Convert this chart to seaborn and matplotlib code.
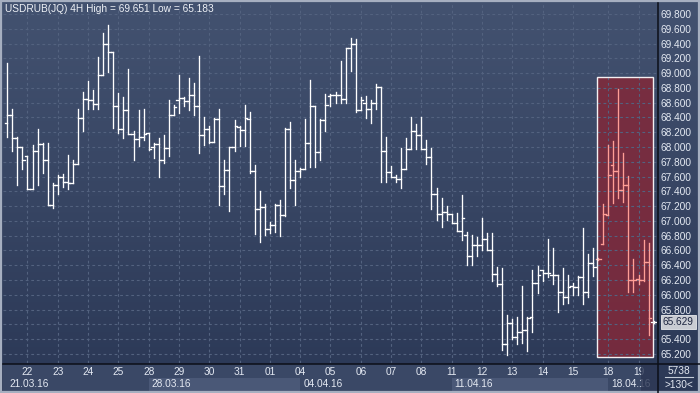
import numpy as np
import pandas as pd
import matplotlib
matplotlib.use("Agg")
import matplotlib.pyplot as plt
from matplotlib.patches import Rectangle
from matplotlib.lines import Line2D
import seaborn as sns

# ---------------- data (USDRUB 4H bars) ----------------
opens = [68.32, 68.43, 68.12, 68.00, 67.88, 67.43, 67.95, 68.04, 67.82, 67.22,
         67.48, 67.60, 67.53, 67.51, 67.77, 68.39, 68.65, 68.64, 68.58, 68.97,
         69.40, 69.28, 68.55, 68.25, 68.50, 68.17, 68.11, 68.14, 68.19, 68.00,
         68.04, 67.82, 67.98, 68.44, 68.63, 68.66, 68.62, 68.71, 68.55, 68.16,
         68.24, 68.07, 68.38, 67.47, 67.69, 68.00, 68.27, 68.23, 68.38, 67.67,
         67.16, 67.19, 66.89, 66.95, 67.22, 67.08, 68.25, 67.55, 67.68, 67.70,
         68.06, 68.56, 67.93, 68.37, 68.69, 68.70, 68.70, 68.65, 69.34, 69.40,
         68.50, 68.59, 68.51, 68.59, 68.81, 67.95, 67.66, 67.60, 67.57, 67.70,
         67.97, 68.22, 68.16, 67.97, 67.87, 67.36, 67.10, 67.12, 67.09, 66.97,
         66.86, 66.81, 66.53, 66.67, 66.67, 66.75, 66.61, 66.28, 66.15, 65.33,
         65.62, 65.43, 65.50, 65.52, 65.70, 66.16, 66.33, 66.30, 66.27, 66.27,
         66.04, 65.97, 66.12, 66.11, 66.24, 66.04, 66.43, 66.48, 66.69, 67.08,
         67.76, 67.67, 67.42, 67.49, 66.20, 66.21, 66.20, 66.44, 65.63]
highs = [69.14, 68.52, 68.13, 68.00, 67.88, 68.03, 68.25, 68.05, 68.05, 67.51,
         67.62, 67.64, 67.89, 67.82, 68.51, 68.75, 68.89, 68.77, 69.22, 69.54,
         69.651, 69.29, 68.73, 68.68, 69.05, 68.21, 68.50, 68.52, 68.19, 68.05,
         68.12, 68.16, 68.64, 68.57, 68.98, 68.68, 68.93, 68.86, 69.23, 68.40,
         68.28, 68.39, 68.51, 67.83, 68.00, 68.37, 68.28, 68.57, 68.48, 67.76,
         67.41, 67.23, 66.99, 67.23, 67.28, 68.26, 68.34, 67.82, 67.72, 68.38,
         68.91, 68.56, 68.38, 68.72, 68.72, 68.75, 69.16, 69.34, 69.48, 69.46,
         68.68, 68.69, 68.64, 68.85, 68.81, 68.14, 67.74, 67.62, 67.99, 68.12,
         68.40, 68.31, 68.40, 68.10, 67.98, 67.44, 67.31, 67.20, 67.10, 67.11,
         67.35, 66.85, 66.81, 66.78, 67.04, 66.84, 66.83, 66.38, 66.36, 65.73,
         65.67, 65.70, 66.12, 65.70, 66.34, 66.39, 66.34, 66.75, 66.63, 66.27,
         66.36, 66.27, 66.16, 66.26, 66.90, 66.55, 66.63, 66.50, 67.23, 68.03,
         68.08, 68.78, 67.92, 67.61, 66.49, 66.27, 66.74, 66.70, 65.64]
lows = [68.14, 67.95, 67.48, 67.70, 67.43, 67.43, 67.49, 67.65, 67.22, 67.18,
        67.37, 67.46, 67.43, 67.51, 67.77, 68.21, 68.52, 68.52, 68.52, 68.97,
        69.02, 68.26, 68.19, 68.12, 68.17, 67.83, 68.01, 68.10, 67.96, 67.85,
        67.60, 67.78, 67.88, 68.44, 68.46, 68.55, 68.50, 68.43, 67.92, 68.03,
        68.06, 68.07, 67.22, 67.37, 67.13, 67.94, 68.01, 68.01, 67.65, 66.82,
        66.72, 66.81, 66.83, 66.85, 66.80, 67.07, 67.44, 67.22, 67.60, 67.70,
        67.73, 67.73, 67.83, 68.21, 68.55, 68.59, 68.59, 68.60, 69.03, 68.47,
        68.50, 68.39, 68.32, 68.52, 67.53, 67.53, 67.60, 67.53, 67.45, 67.70,
        67.97, 67.97, 67.97, 67.77, 67.16, 67.01, 66.92, 67.01, 66.97, 66.86,
        66.74, 66.41, 66.41, 66.52, 66.61, 66.61, 66.18, 66.12, 65.25, 65.183,
        65.40, 65.33, 65.35, 65.24, 65.49, 66.03, 66.19, 66.24, 66.15, 65.77,
        65.88, 65.89, 66.00, 66.00, 65.88, 65.97, 66.25, 66.47, 66.69, 67.08,
        67.24, 67.31, 67.26, 66.04, 66.04, 66.15, 66.18, 65.45, 65.62]
closes = [68.43, 68.12, 68.00, 67.83, 67.43, 67.95, 68.04, 67.82, 67.22, 67.48,
          67.60, 67.53, 67.51, 67.77, 68.39, 68.65, 68.64, 68.58, 68.97, 69.40,
          69.28, 68.55, 68.25, 68.50, 68.17, 68.11, 68.14, 68.17, 67.97, 68.04,
          67.82, 67.98, 68.44, 68.54, 68.66, 68.62, 68.71, 68.55, 68.16, 68.24,
          68.07, 68.38, 67.47, 67.69, 68.00, 68.28, 68.23, 68.39, 67.67, 67.16,
          67.19, 66.89, 66.95, 67.22, 67.08, 68.25, 67.55, 67.68, 67.70, 68.06,
          68.56, 67.93, 68.37, 68.57, 68.70, 68.70, 68.65, 69.34, 69.40, 68.50,
          68.63, 68.51, 68.59, 68.81, 67.95, 67.66, 67.60, 67.57, 67.70, 67.97,
          68.22, 68.16, 67.97, 67.87, 67.36, 67.10, 67.12, 67.09, 66.97, 66.86,
          67.04, 66.53, 66.67, 66.67, 66.75, 66.61, 66.28, 66.15, 65.33, 65.62,
          65.43, 65.50, 65.52, 65.68, 66.16, 66.27, 66.30, 66.30, 66.27, 66.04,
          65.97, 66.10, 66.11, 66.24, 66.04, 66.43, 66.37, 66.49, 67.10, 67.62,
          67.67, 67.42, 67.49, 66.20, 66.20, 66.20, 66.44, 65.68, 65.629]
highlight_first, highlight_last = 117, 127
box_low, box_high = 65.163, 68.943

day_pos = [4, 10, 16, 22, 28, 34, 40, 46, 52, 58, 64, 70, 76, 82, 88, 94, 100, 106, 112, 119, 125]
day_labels = ["22", "23", "24", "25", "28", "29", "30", "31", "01", "04", "05",
              "06", "07", "08", "11", "12", "13", "14", "15", "18", "19"]
week_pos = [-1, 28, 58, 88, 119]
week_labels = ["21.03.16", "28.03.16", "04.04.16", "11.04.16", "18.04.16"]
y_ticks = [65.2, 65.4, 65.6, 65.8, 66.0, 66.2, 66.4, 66.6, 66.8, 67.0, 67.2, 67.4,
           67.6, 67.8, 68.0, 68.2, 68.4, 68.6, 68.8, 69.0, 69.2, 69.4, 69.6, 69.8]
title = "USDRUB(JQ) 4H High = 69.651 Low = 65.183"
corner_top, corner_bottom = "5738", ">130<"

# ---------------- figure ----------------
plt.rcParams['font.family'] = ['Liberation Sans', 'DejaVu Sans']
W, H = 700, 393
fig = plt.figure(figsize=(7.0, 3.93), dpi=100)
fig.patch.set_facecolor('#34425f')

def px(x0, y0, x1, y1):
    return [x0 / W, 1 - y1 / H, (x1 - x0) / W, (y1 - y0) / H]

# background gradient
bg = fig.add_axes([0, 0, 1, 1], zorder=-10)
top_c = np.array([0x43, 0x52, 0x70]) / 255
bot_c = np.array([0x2b, 0x38, 0x56]) / 255
t = np.linspace(0, 1, 256)[:, None]
grad = (top_c[None, :] * (1 - t) + bot_c[None, :] * t)[:, None, :]
bg.imshow(grad, aspect='auto', extent=[0, 1, 0, 1])
bg.set_axis_off()

ax = fig.add_axes(px(3, 3, 657, 363), zorder=1)
ax.set_facecolor('none')
ax.set_xlim(-0.85, 128.66)
ax.set_ylim(65.077, 69.949)

# grid + right price scale (the label under the last-price tag is hidden, as in the source)
grid_c = '#53627f'
last = closes[-1]
ax.set_xticks(day_pos)
ax.set_xticklabels([])
ax.set_yticks(y_ticks)
ax.set_yticklabels(["" if abs(v - last) < 0.08 else f"{v:.3f}" for v in y_ticks])
ax.yaxis.tick_right()
ax.tick_params(axis='both', length=0)
ax.tick_params(axis='y', pad=2.3, labelsize=7.3, labelcolor='#e4e9f2')
ax.grid(True, color=grid_c, linestyle=(0, (2.5, 2.5)), linewidth=0.8, zorder=0)
for s in ax.spines.values():
    s.set_visible(False)

# highlight box
ax.add_patch(Rectangle((highlight_first - 0.25, box_low),
                       highlight_last - highlight_first + 1.05, box_high - box_low,
                       facecolor='#81293a', alpha=0.86, edgecolor='none', zorder=1))
ax.add_patch(Rectangle((highlight_first - 0.25, box_low),
                       highlight_last - highlight_first + 1.05, box_high - box_low,
                       facecolor='none', edgecolor='#f4f0f2', linewidth=1.0, zorder=4))

# OHLC bars via seaborn
rows = []
for i, (o, h, l, c) in enumerate(zip(opens, highs, lows, closes)):
    g = 'hi' if highlight_first <= i <= highlight_last else 'lo'
    rows += [(i, h, f'{i}r', g), (i, l, f'{i}r', g),
             (i - 0.5, o, f'{i}o', g), (i, o, f'{i}o', g),
             (i, c, f'{i}c', g), (i + 0.5, c, f'{i}c', g)]
df = pd.DataFrame(rows, columns=['x', 'price', 'seg', 'grp'])
sns.lineplot(data=df, x='x', y='price', units='seg', estimator=None, sort=False,
             hue='grp', palette={'lo': '#ffffff', 'hi': '#ff9e96'}, legend=False,
             linewidth=0.95, ax=ax, zorder=3)
ax.set_xlabel('')
ax.set_ylabel('')

# last price tag
ax.annotate(f"{last:.3f}", xy=(1.0, last), xycoords=('axes fraction', 'data'),
            xytext=(4.2, 0), textcoords='offset points', ha='left', va='center',
            fontsize=7.3, color='#1d2540', annotation_clip=False,
            bbox=dict(boxstyle='square,pad=0.22', facecolor='#c9ccd3', edgecolor='#e8eaee', linewidth=0.6),
            zorder=6)

# bottom date strip
axb = fig.add_axes(px(3, 364, 657, 393), zorder=1)
axb.set_xlim(ax.get_xlim())
axb.set_ylim(0, 1)
axb.set_axis_off()
axb.add_patch(Rectangle((0, 0), 1, 1, transform=axb.transAxes, facecolor='#3a4866', edgecolor='none'))
bounds = week_pos + [128.66]
band_cols = ['#3a4866', '#4a5877']
for j in range(len(week_pos)):
    axb.add_patch(Rectangle((bounds[j], 0.07), bounds[j + 1] - bounds[j], 0.46,
                            facecolor=band_cols[j % 2], edgecolor='none'))
    axb.text(max(bounds[j], -0.2) + 0.6, 0.30, week_labels[j], ha='left', va='center',
             fontsize=7.3, color='#e4e9f2')
for p, lab in zip(day_pos, day_labels):
    axb.text(p, 0.72, lab, ha='center', va='center', fontsize=7.3, color='#e4e9f2')

# overlay: frame, separators, title, corner
ov = fig.add_axes([0, 0, 1, 1], zorder=5)
ov.set_xlim(0, W)
ov.set_ylim(H, 0)
ov.set_axis_off()
ov.patch.set_alpha(0)
ov.add_patch(Rectangle((640.5, 365), 16.5, 28, facecolor='#2b3653', edgecolor='none', alpha=0.8))
ov.add_line(Line2D([657.5, 657.5], [3, 393], color='#0c0f18', lw=1.1))
ov.add_line(Line2D([3, 700], [363.8, 363.8], color='#0c0f18', lw=1.1))
ov.add_patch(Rectangle((1, 1), 698, 391, facecolor='none', edgecolor='#a6afc0', lw=1.6))
ov.text(5, 9.5, title, ha='left', va='center', fontsize=7.3, color='#eef1f6')
ov.text(678.5, 371, corner_top, ha='center', va='center', fontsize=7.3, color='#e4e9f2')
ov.add_line(Line2D([665, 693], [377.3, 377.3], color='#c4ccd8', lw=0.8))
ov.text(678.5, 385.5, corner_bottom, ha='center', va='center', fontsize=7.3, color='#e4e9f2')

fig.savefig('out.png', dpi=100)
